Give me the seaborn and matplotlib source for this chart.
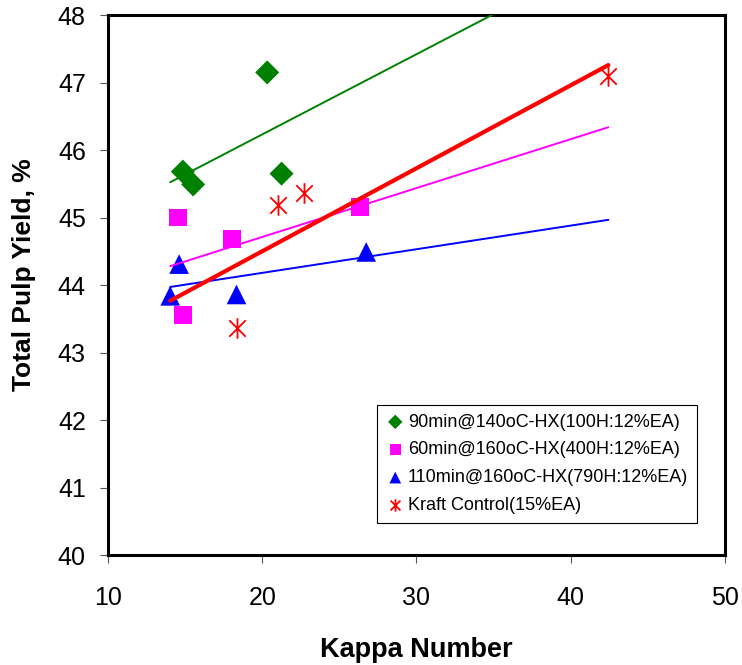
import numpy as np
import matplotlib
matplotlib.use('Agg')
import matplotlib.pyplot as plt
from matplotlib.path import Path
import seaborn as sns

# Data
green_x = [14.85, 15.52, 20.32, 21.25]
green_y = [45.68, 45.49, 47.15, 45.65]
pink_x = [14.56, 18.04, 14.88, 26.34]
pink_y = [45.00, 44.68, 43.56, 45.16]
blue_x = [14.61, 14.03, 18.33, 26.74]
blue_y = [44.31, 43.84, 43.86, 44.49]
red_x = [18.33, 21.00, 22.70, 42.44]
red_y = [43.36, 45.18, 45.37, 47.10]

labels = ['90min@140oC-HX(100H:12%EA)',
          '60min@160oC-HX(400H:12%EA)',
          '110min@160oC-HX(790H:12%EA)',
          'Kraft Control(15%EA)']
colors = ['#008000', '#FF00FF', '#0000FF', '#FF0000']

x_ticks = [10, 20, 30, 40, 50]
y_ticks = [40, 41, 42, 43, 44, 45, 46, 47, 48]

sns.set_style('ticks')
plt.rcParams['font.family'] = ['Liberation Sans', 'DejaVu Sans']
plt.rcParams['text.color'] = 'black'
plt.rcParams['axes.labelcolor'] = 'black'

# asterisk like the Excel one: vertical bar + X
ast = Path([(0, -1), (0, 1), (-0.8, -0.8), (0.8, 0.8), (-0.8, 0.8), (0.8, -0.8)],
           [Path.MOVETO, Path.LINETO, Path.MOVETO, Path.LINETO, Path.MOVETO, Path.LINETO])

fig = plt.figure(figsize=(7.42, 6.65), dpi=100)
ax = fig.add_axes([0.1456, 0.1654, 0.8314, 0.812])

series = [(green_x, green_y, 'D', 150), (pink_x, pink_y, 's', 165),
          (blue_x, blue_y, '^', 200), (red_x, red_y, ast, 220)]

for (xs, ys, mk, sz), lab, c in zip(series, labels, colors):
    if mk is ast:
        sns.scatterplot(x=xs, y=ys, marker=mk, s=sz, color=c, linewidth=1.3,
                        edgecolor=c, label=lab, ax=ax, zorder=3)
    else:
        sns.scatterplot(x=xs, y=ys, marker=mk, s=sz, color=c, edgecolor='none',
                        linewidth=0, label=lab, ax=ax, zorder=3)

# linear trendlines over the full data range
all_x = green_x + pink_x + blue_x + red_x
xr = np.array([min(all_x), max(all_x)])
for (xs, ys, mk, sz), c in zip(series, colors):
    k, b = np.polyfit(xs, ys, 1)
    lw = 3 if c == '#FF0000' else 1.4
    sns.lineplot(x=xr, y=k * xr + b, color=c, linewidth=lw, ax=ax, zorder=4)

ax.set_xlim(10, 50)
ax.set_ylim(40, 48)
ax.set_xticks(x_ticks)
ax.set_yticks(y_ticks)
ax.tick_params(axis='both', labelsize=18, length=6, width=0.8, color='#555555',
               labelcolor='black')
ax.tick_params(axis='x', pad=16)
ax.tick_params(axis='y', pad=10)
for sp in ax.spines.values():
    sp.set_linewidth(2.2)
    sp.set_color('black')
    sp.set_visible(True)

ax.set_xlabel('Kappa Number', fontsize=19.5, fontweight='bold', labelpad=20)
ax.set_ylabel('Total Pulp Yield, %', fontsize=19, fontweight='bold')
ax.yaxis.set_label_coords(-0.117, 0.519)

leg = ax.legend(loc='lower right', bbox_to_anchor=(0.955, 0.059), borderaxespad=0,
                fontsize=13, frameon=True, fancybox=False, edgecolor='black',
                framealpha=1, markerscale=0.6, handletextpad=0.2,
                labelspacing=0.6, handlelength=1.0, borderpad=0.5)
leg.get_frame().set_linewidth(0.8)
for t in leg.get_texts():
    t.set_color('black')

fig.savefig('out.png', dpi=100)
